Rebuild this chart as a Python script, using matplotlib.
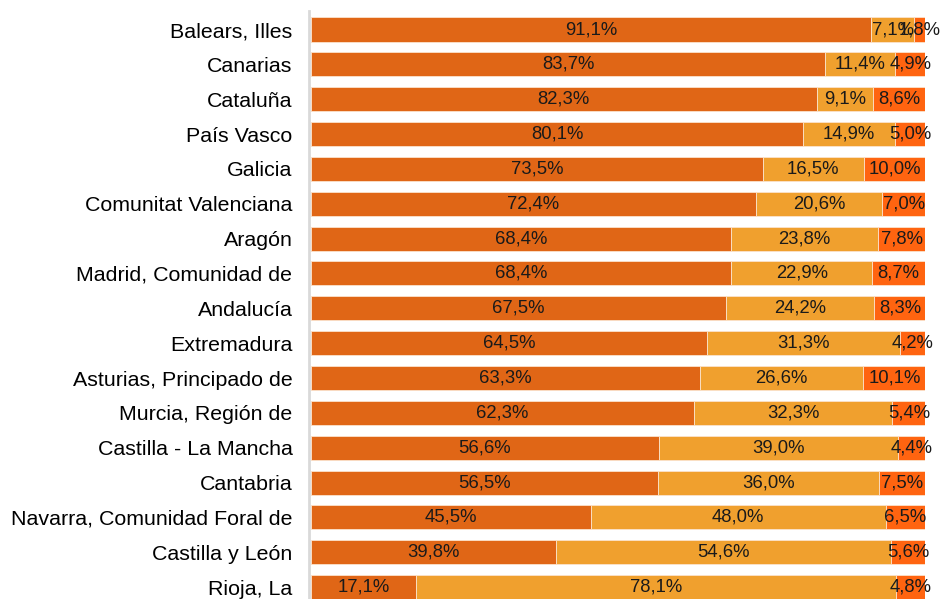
import matplotlib
matplotlib.use("Agg")
import matplotlib.pyplot as plt
import numpy as np

plt.rcParams['font.family'] = ['Liberation Sans', 'DejaVu Sans']

regions = ["Balears, Illes", "Canarias", "Cataluña", "País Vasco", "Galicia",
           "Comunitat Valenciana", "Aragón", "Madrid, Comunidad de", "Andalucía",
           "Extremadura", "Asturias, Principado de", "Murcia, Región de",
           "Castilla - La Mancha", "Cantabria", "Navarra, Comunidad Foral de",
           "Castilla y León", "Rioja, La"]
first = [91.1, 83.7, 82.3, 80.1, 73.5, 72.4, 68.4, 68.4, 67.5, 64.5, 63.3,
         62.3, 56.6, 56.5, 45.5, 39.8, 17.1]
second = [7.1, 11.4, 9.1, 14.9, 16.5, 20.6, 23.8, 22.9, 24.2, 31.3, 26.6,
          32.3, 39.0, 36.0, 48.0, 54.6, 78.1]
third = [1.8, 4.9, 8.6, 5.0, 10.0, 7.0, 7.8, 8.7, 8.3, 4.2, 10.1, 5.4, 4.4,
         7.5, 6.5, 5.6, 4.8]

colors = ["#E06616", "#F0A02E", "#FF6410"]

fig = plt.figure(figsize=(9.41, 5.99), dpi=100)
ax = fig.add_axes([0.3285, 0.0, 0.655, 0.981])

y = np.arange(len(regions))
left = np.zeros(len(regions))
for vals, col in zip([first, second, third], colors):
    vals = np.array(vals)
    ax.barh(y, vals, left=left, height=0.69, color=col,
            edgecolor="#FBE3CC", linewidth=0.6)
    for yi, l, v in zip(y, left, vals):
        ax.text(l + v / 2, yi, f"{v:.1f}%".replace(".", ","), ha="center",
                va="center", fontsize=13.3, color="#1a1a1a")
    left += vals

ax.set_xlim(-0.3, 100)
ax.set_ylim(16.34, -0.52)
ax.set_yticks(y)
ax.set_yticklabels(regions)
ax.tick_params(axis="y", length=0, pad=12, labelsize=15.4)
ax.set_xticks([])
for s in ["top", "right", "bottom"]:
    ax.spines[s].set_visible(False)
ax.spines["left"].set_color("#D9D9D9")
ax.spines["left"].set_linewidth(2)
ax.spines["left"].set_position(("data", -0.3))

fig.savefig("out.png", dpi=100)
